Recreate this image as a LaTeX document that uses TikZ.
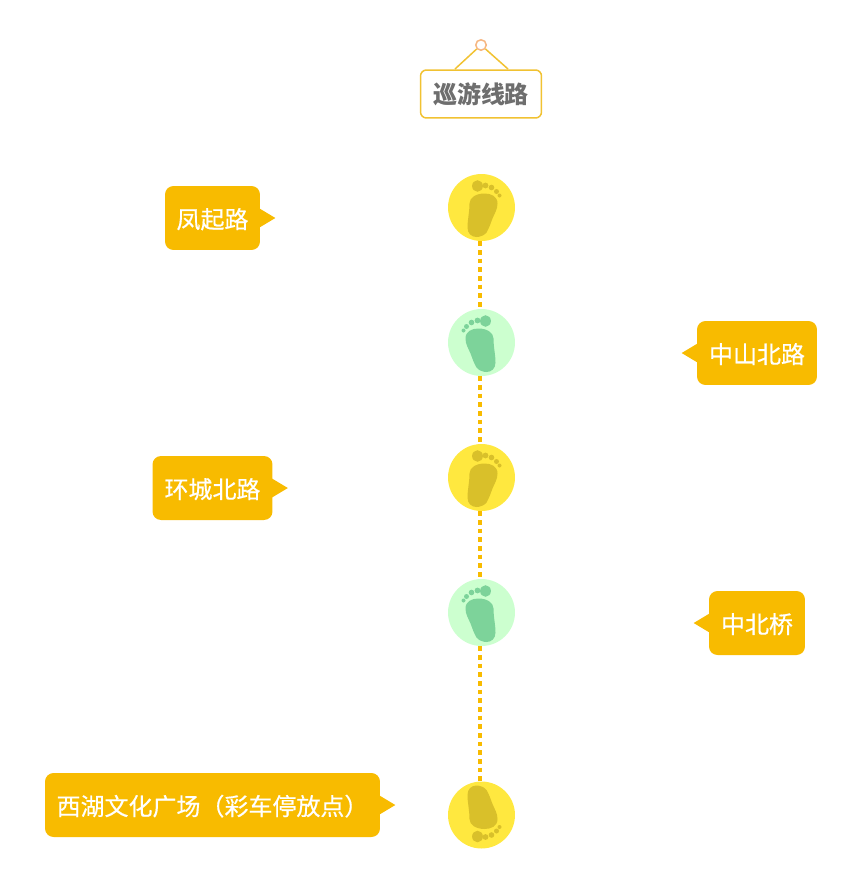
\documentclass[tikz,border=0pt]{standalone}
\usepackage{fontspec}
\setmainfont{Noto Sans CJK SC}
\newfontfamily\placefont[FakeBold=0.5]{Noto Sans CJK SC}
\definecolor{routeorange}{RGB}{248,187,0}
\definecolor{signgold}{RGB}{241,194,50}
\definecolor{signgrey}{RGB}{110,110,110}
\definecolor{ringpeach}{RGB}{246,183,130}
\definecolor{stopyellow}{RGB}{255,232,63}
\definecolor{footyellow}{RGB}{217,192,42}
\definecolor{stopgreen}{RGB}{204,255,207}
\definecolor{footgreen}{RGB}{125,211,154}

\begin{document}
\begin{tikzpicture}[x=0.02cm, y=-0.02cm]
    \tikzstyle{every node} = [inner sep=0, font=\fontsize{13.65}{16}\selectfont]
    \tikzstyle{stopdot} = [circle, minimum size=1.34cm]
    \tikzstyle{placebox} = [fill=routeorange, text=white, rounded corners=0.17cm, minimum height=1.28cm,
        font=\fontsize{13.65}{16}\selectfont\placefont, text height=0.46cm, text depth=0.05cm]
    \tikzstyle{placetail} = [fill=routeorange]
    \tikzstyle{routeline} = [routeorange, line width=0.09cm, dash pattern=on 0.09cm off 0.0834cm]
    \tikzstyle{signwire} = [signgold, line width=0.03cm]
    \tikzset{footprint/.pic={
        \fill[pic actions] (3,-14) .. controls (10,-14) and (16,-11) .. (16,-4)
            .. controls (16,2) and (13,6) .. (11,11)
            .. controls (9,16) and (8,20) .. (5,25)
            .. controls (3,28) and (-2,29.5) .. (-5,29.5)
            .. controls (-10,29.5) and (-14,26) .. (-14,20)
            .. controls (-14,12) and (-12,5) .. (-12,-4)
            .. controls (-12,-10) and (-5,-14) .. (3,-14) -- cycle;
        \fill[pic actions] (-4,-21.5) ellipse [x radius=5.4, y radius=5.8];
        \fill[pic actions] (4,-22) circle [radius=2.9];
        \fill[pic actions] (10,-20) circle [radius=2.8];
        \fill[pic actions] (15,-16) circle [radius=2.5];
        \fill[pic actions] (18,-12) circle [radius=2];
    }}
    \useasboundingbox (0,0) rectangle (858,876);

    \node[draw=signgold, line width=0.03cm, fill=white, rounded corners=0.12cm, minimum width=2.42cm, minimum height=0.96cm,
        text=signgrey, font=\fontsize{13.65}{16}\selectfont\bfseries] (sign) at (481,94) {巡游线路};
    \node[circle, draw=ringpeach, line width=0.03cm, fill=white, minimum size=0.21cm] (ring) at (481,45) {};
    \coordinate (wireleft) at (455,69);
    \coordinate (wireright) at (508,69);
    \draw[signwire] (ring) -- (wireleft);
    \draw[signwire] (ring) -- (wireright);

    \node[stopdot, fill=stopyellow] (stopa) at (481.5,207.5) {};
    \node[stopdot, fill=stopgreen] (stopb) at (481.5,342.5) {};
    \node[stopdot, fill=stopyellow] (stopc) at (481.5,477.5) {};
    \node[stopdot, fill=stopgreen] (stopd) at (481.5,612.5) {};
    \node[stopdot, fill=stopyellow] (stope) at (481.5,815) {};

    \draw[routeline] ([xshift=-0.03cm]stopa.south) -- ([xshift=-0.03cm]stopb.north);
    \draw[routeline] ([xshift=-0.03cm]stopb.south) -- ([xshift=-0.03cm]stopc.north);
    \draw[routeline] ([xshift=-0.03cm]stopc.south) -- ([xshift=-0.03cm]stopd.north);
    \draw[routeline] ([xshift=-0.03cm]stopd.south) -- ([xshift=-0.03cm]stope.north);

    \pic[fill=footyellow] (foota) at (stopa) {footprint};
    \pic[fill=footgreen, xscale=-1] (footb) at (stopb) {footprint};
    \pic[fill=footyellow] (footc) at (stopc) {footprint};
    \pic[fill=footgreen, xscale=-1] (footd) at (stopd) {footprint};
    \pic[fill=footyellow, yscale=-1] (foote) at (stope) {footprint};

    \node[placebox, minimum width=1.9cm] (placea) at (212.5,218) {凤起路};
    \node[placebox, minimum width=2.4cm] (placeb) at (757,353) {中山北路};
    \node[placebox, minimum width=2.4cm] (placec) at (212.5,488) {环城北路};
    \node[placebox, minimum width=1.92cm] (placed) at (757,623) {中北桥};
    \node[placebox, minimum width=6.7cm] (placee) at (212.5,805) {西湖文化广场（彩车停放点）};

    \fill[placetail] (placea.east) ++(-1,-9.6) -- ++(16,9.6) -- ++(-16,9.6) -- cycle;
    \fill[placetail] (placeb.west) ++(1,-9.6) -- ++(-16,9.6) -- ++(16,9.6) -- cycle;
    \fill[placetail] (placec.east) ++(-1,-9.6) -- ++(16,9.6) -- ++(-16,9.6) -- cycle;
    \fill[placetail] (placed.west) ++(1,-9.6) -- ++(-16,9.6) -- ++(16,9.6) -- cycle;
    \fill[placetail] (placee.east) ++(-1,-9.6) -- ++(16,9.6) -- ++(-16,9.6) -- cycle;
\end{tikzpicture}
\end{document}
